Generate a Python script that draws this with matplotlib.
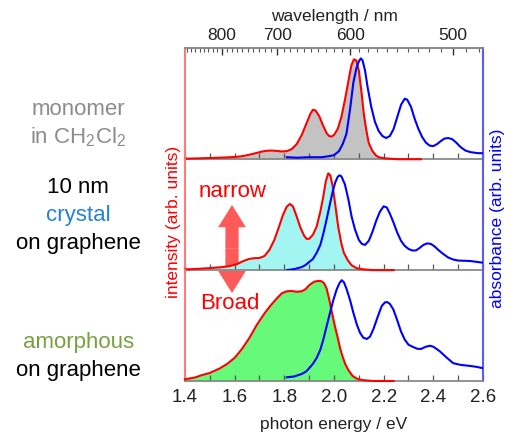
"""
Emission (red) and absorption (blue) spectra: monomer, crystal and amorphous film.
"""
import matplotlib

matplotlib.use("Agg")
import matplotlib.pyplot as plt
from matplotlib.patches import FancyArrowPatch
import numpy as np

plt.rcParams["font.family"] = ["Liberation Sans", "DejaVu Sans"]
plt.rcParams["mathtext.fontset"] = "custom"
plt.rcParams["mathtext.rm"] = "Liberation Sans"

RED = "#ff0000"
BLUE = "#0000ff"
HC = 1239.84  # eV nm

# ---- monomer in CH2Cl2 ----
mono_pl_e = [1.40, 1.45, 1.50, 1.55, 1.60, 1.63, 1.66, 1.69, 1.71, 1.73, 1.75, 1.77,
             1.79, 1.81, 1.83, 1.85, 1.87, 1.89, 1.905, 1.915, 1.925, 1.94, 1.955, 1.97,
             1.98, 1.99, 2.00, 2.015, 2.03, 2.045, 2.06, 2.07, 2.08, 2.09, 2.10, 2.11,
             2.12, 2.13, 2.14, 2.155, 2.17, 2.18, 2.20, 2.23, 2.26, 2.35]
mono_pl = [0.005, 0.008, 0.012, 0.016, 0.022, 0.03, 0.045, 0.063, 0.076, 0.084, 0.086, 0.082,
           0.077, 0.080, 0.10, 0.15, 0.24, 0.36, 0.45, 0.49, 0.485, 0.43, 0.34, 0.26,
           0.23, 0.225, 0.24, 0.30, 0.42, 0.60, 0.80, 0.93, 0.99, 0.98, 0.88, 0.68,
           0.45, 0.29, 0.16, 0.08, 0.035, 0.02, 0.01, 0.004, 0.0, 0.0]
mono_abs_e = [1.81, 1.85, 1.90, 1.95, 1.98, 2.00, 2.02, 2.035, 2.05, 2.065, 2.078, 2.09,
              2.10, 2.108, 2.115, 2.125, 2.135, 2.15, 2.165, 2.18, 2.195, 2.21, 2.225, 2.24,
              2.255, 2.27, 2.285, 2.295, 2.31, 2.325, 2.34, 2.355, 2.37, 2.385, 2.40, 2.415,
              2.43, 2.445, 2.46, 2.475, 2.49, 2.51, 2.53, 2.55, 2.58, 2.60]
mono_abs = [0.02, 0.015, 0.02, 0.02, 0.03, 0.04, 0.08, 0.15, 0.25, 0.50, 0.76, 0.90,
            0.97, 1.00, 0.98, 0.88, 0.72, 0.52, 0.37, 0.28, 0.23, 0.21, 0.23, 0.30,
            0.42, 0.54, 0.60, 0.59, 0.52, 0.40, 0.30, 0.22, 0.165, 0.135, 0.13, 0.15,
            0.18, 0.205, 0.21, 0.20, 0.17, 0.12, 0.085, 0.07, 0.06, 0.06]

# ---- 10 nm crystal on graphene ----
cry_pl_e = [1.40, 1.45, 1.50, 1.55, 1.58, 1.61, 1.635, 1.66, 1.68, 1.70, 1.72, 1.74,
            1.76, 1.78, 1.795, 1.81, 1.823, 1.835, 1.85, 1.865, 1.88, 1.89, 1.90, 1.915,
            1.93, 1.945, 1.957, 1.967, 1.977, 1.985, 1.995, 2.005, 2.017, 2.03, 2.04, 2.055,
            2.07, 2.09, 2.12, 2.16, 2.24]
cry_pl = [0.007, 0.012, 0.02, 0.03, 0.04, 0.06, 0.09, 0.112, 0.118, 0.12, 0.14, 0.20,
          0.30, 0.44, 0.55, 0.63, 0.657, 0.63, 0.53, 0.42, 0.34, 0.31, 0.31, 0.35,
          0.43, 0.58, 0.73, 0.88, 0.96, 0.94, 0.83, 0.65, 0.43, 0.26, 0.17, 0.10,
          0.05, 0.02, 0.007, 0.0, 0.0]
cry_abs_e = [1.81, 1.84, 1.87, 1.885, 1.89, 1.90, 1.915, 1.93, 1.945, 1.957, 1.97, 1.984,
             1.995, 2.005, 2.015, 2.022, 2.03, 2.044, 2.058, 2.071, 2.085, 2.10, 2.112, 2.125,
             2.14, 2.155, 2.17, 2.185, 2.20, 2.213, 2.225, 2.24, 2.255, 2.27, 2.285, 2.30,
             2.315, 2.33, 2.345, 2.36, 2.375, 2.39, 2.405, 2.42, 2.44, 2.46, 2.48, 2.50,
             2.52, 2.55, 2.58, 2.60]
cry_abs = [0.0, 0.01, 0.03, 0.05, 0.06, 0.08, 0.11, 0.17, 0.25, 0.36, 0.50, 0.66,
           0.78, 0.87, 0.925, 0.94, 0.93, 0.85, 0.70, 0.53, 0.40, 0.30, 0.26, 0.25,
           0.29, 0.38, 0.49, 0.58, 0.633, 0.62, 0.56, 0.47, 0.37, 0.29, 0.24, 0.21,
           0.195, 0.195, 0.22, 0.25, 0.265, 0.26, 0.235, 0.20, 0.16, 0.125, 0.105, 0.095,
           0.093, 0.09, 0.08, 0.073]

# ---- amorphous on graphene ----
amo_pl_e = [1.40, 1.44, 1.47, 1.50, 1.54, 1.57, 1.60, 1.63, 1.66, 1.69, 1.72, 1.745,
            1.77, 1.79, 1.81, 1.83, 1.85, 1.87, 1.885, 1.90, 1.92, 1.937, 1.95, 1.96,
            1.97, 1.98, 1.99, 2.004, 2.015, 2.025, 2.035, 2.045, 2.06, 2.075, 2.095, 2.12,
            2.16, 2.24]
amo_pl = [0.017, 0.035, 0.06, 0.08, 0.125, 0.17, 0.23, 0.32, 0.43, 0.56, 0.67, 0.75,
          0.82, 0.87, 0.89, 0.893, 0.885, 0.89, 0.91, 0.95, 0.985, 0.993, 0.99, 0.97,
          0.92, 0.82, 0.70, 0.54, 0.43, 0.32, 0.24, 0.17, 0.10, 0.05, 0.02, 0.008,
          0.0, 0.0]
amo_abs_e = [1.81, 1.84, 1.87, 1.885, 1.89, 1.90, 1.915, 1.93, 1.945, 1.957, 1.97, 1.984,
             1.997, 2.011, 2.022, 2.031, 2.04, 2.051, 2.065, 2.078, 2.092, 2.105, 2.118, 2.132,
             2.145, 2.158, 2.175, 2.192, 2.205, 2.214, 2.225, 2.239, 2.255, 2.27, 2.285, 2.30,
             2.319, 2.335, 2.35, 2.37, 2.386, 2.40, 2.415, 2.427, 2.45, 2.48, 2.51, 2.547,
             2.575, 2.60]
amo_abs = [0.037, 0.045, 0.07, 0.09, 0.10, 0.127, 0.17, 0.227, 0.31, 0.41, 0.54, 0.677,
           0.80, 0.91, 0.97, 1.0, 0.98, 0.91, 0.80, 0.677, 0.56, 0.477, 0.43, 0.417,
           0.44, 0.51, 0.63, 0.743, 0.78, 0.783, 0.765, 0.71, 0.60, 0.49, 0.41, 0.36,
           0.337, 0.32, 0.318, 0.34, 0.35, 0.34, 0.315, 0.293, 0.24, 0.177, 0.16, 0.15,
           0.14, 0.127]

panels = [
    (mono_pl_e, mono_pl, mono_abs_e, mono_abs, "#c3c3c3"),
    (cry_pl_e, cry_pl, cry_abs_e, cry_abs, "#a2f5f0"),
    (amo_pl_e, amo_pl, amo_abs_e, amo_abs, "#66f97a"),
]

x_major = [1.4, 1.6, 1.8, 2.0, 2.2, 2.4, 2.6]
x_minor = [1.5, 1.7, 1.9, 2.1, 2.3, 2.5]
wl_major = [800, 700, 600, 500]
wl_minor = list(range(480, 890, 10))

fig = plt.figure(figsize=(5.11, 4.38), dpi=100)
gs = fig.add_gridspec(3, 1, left=0.362, right=0.9452, bottom=0.1301, top=0.8897, hspace=0)
axes = [fig.add_subplot(gs[i]) for i in range(3)]

for i, (ax, (pe, pv, ae, av, fill)) in enumerate(zip(axes, panels)):
    ax.set_facecolor("none")
    ax.fill_between(pe, pv, 0, color=fill, lw=0, zorder=1)
    ax.plot(pe, pv, color=RED, lw=1.5, zorder=3, clip_on=False, solid_joinstyle="round")
    ax.plot(ae, av, color=BLUE, lw=1.5, zorder=3, solid_joinstyle="round")
    ax.set_xlim(1.4, 2.6)
    ax.set_ylim(0, 1.1)
    ax.set_yticks([])
    ax.set_xticks(x_major)
    ax.set_xticks(x_minor, minor=True)
    ax.tick_params(axis="x", which="both", direction="in", color="#555555",
                   length=4, width=0.9, labelsize=13.5, labelcolor="#222222", pad=6)
    ax.spines["left"].set_color("#ff7b7b")
    ax.spines["left"].set_linewidth(1.5)
    ax.spines["right"].set_color("#5c5cf0")
    ax.spines["right"].set_linewidth(1.5)
    ax.spines["bottom"].set_color("#8a8a8a")
    ax.spines["bottom"].set_linewidth(1.3)
    ax.spines["top"].set_color("#8a8a8a")
    ax.spines["top"].set_linewidth(1.3)
    if i > 0:
        ax.spines["top"].set_visible(False)
    if i < 2:
        ax.tick_params(axis="x", labelbottom=False)

axes[2].set_xlabel("photon energy / eV", fontsize=12.5, color="#222222", labelpad=8)

top = axes[0].secondary_xaxis("top", functions=(lambda e: HC / np.maximum(e, 1e-6),
                                                lambda w: HC / np.maximum(w, 1e-6)))
top.set_xticks(wl_major)
top.set_xticks(wl_minor, minor=True)
top.tick_params(axis="x", which="major", direction="in", length=5, width=1.0,
                color="#333333", labelsize=12.5, labelcolor="#222222", pad=4)
top.tick_params(axis="x", which="minor", direction="in", length=3, width=0.8,
                color="#555555")
top.spines["top"].set_color("#8a8a8a")
top.spines["top"].set_linewidth(1.3)
top.set_xlabel("wavelength / nm", fontsize=12.5, color="#222222", labelpad=5)

# axis titles on the sides
fig.text(0.339, 0.493, "intensity (arb. units)", rotation=90, color=RED,
         fontsize=12.5, ha="center", va="center")
fig.text(0.973, 0.502, "absorbance (arb. units)", rotation=90, color=BLUE,
         fontsize=12.5, ha="center", va="center")

# sample labels
lx = 0.153
fig.text(lx, 0.749, "monomer", color="#8c8c8c", fontsize=16, ha="center", va="center")
fig.text(lx, 0.687, r"in CH$_\mathregular{2}$Cl$_\mathregular{2}$", color="#8c8c8c",
         fontsize=16, ha="center", va="center")
fig.text(lx, 0.571, "10 nm", color="black", fontsize=16, ha="center", va="center")
fig.text(lx, 0.509, "crystal", color="#2382d2", fontsize=16, ha="center", va="center")
fig.text(lx, 0.445, "on graphene", color="black", fontsize=16, ha="center", va="center")
fig.text(lx, 0.217, "amorphous", color="#78a040", fontsize=16, ha="center", va="center")
fig.text(lx, 0.155, "on graphene", color="black", fontsize=16, ha="center", va="center")

# narrow / broad double arrow, behind the curves
style = "simple,head_length=1.6,head_width=2.0,tail_width=0.95"
for tip in (0.532, 0.331):
    arr = FancyArrowPatch((0.454, 0.432), (0.454, tip), transform=fig.transFigure,
                          arrowstyle=style, mutation_scale=10, color="#ff5a5a",
                          lw=0, zorder=-1, shrinkA=0, shrinkB=0)
    fig.add_artist(arr)
fig.text(0.456, 0.562, "narrow", color=RED, fontsize=16, ha="center", va="center")
fig.text(0.450, 0.308, "Broad", color=RED, fontsize=16, ha="center", va="center")

fig.savefig("out.png", dpi=100)
